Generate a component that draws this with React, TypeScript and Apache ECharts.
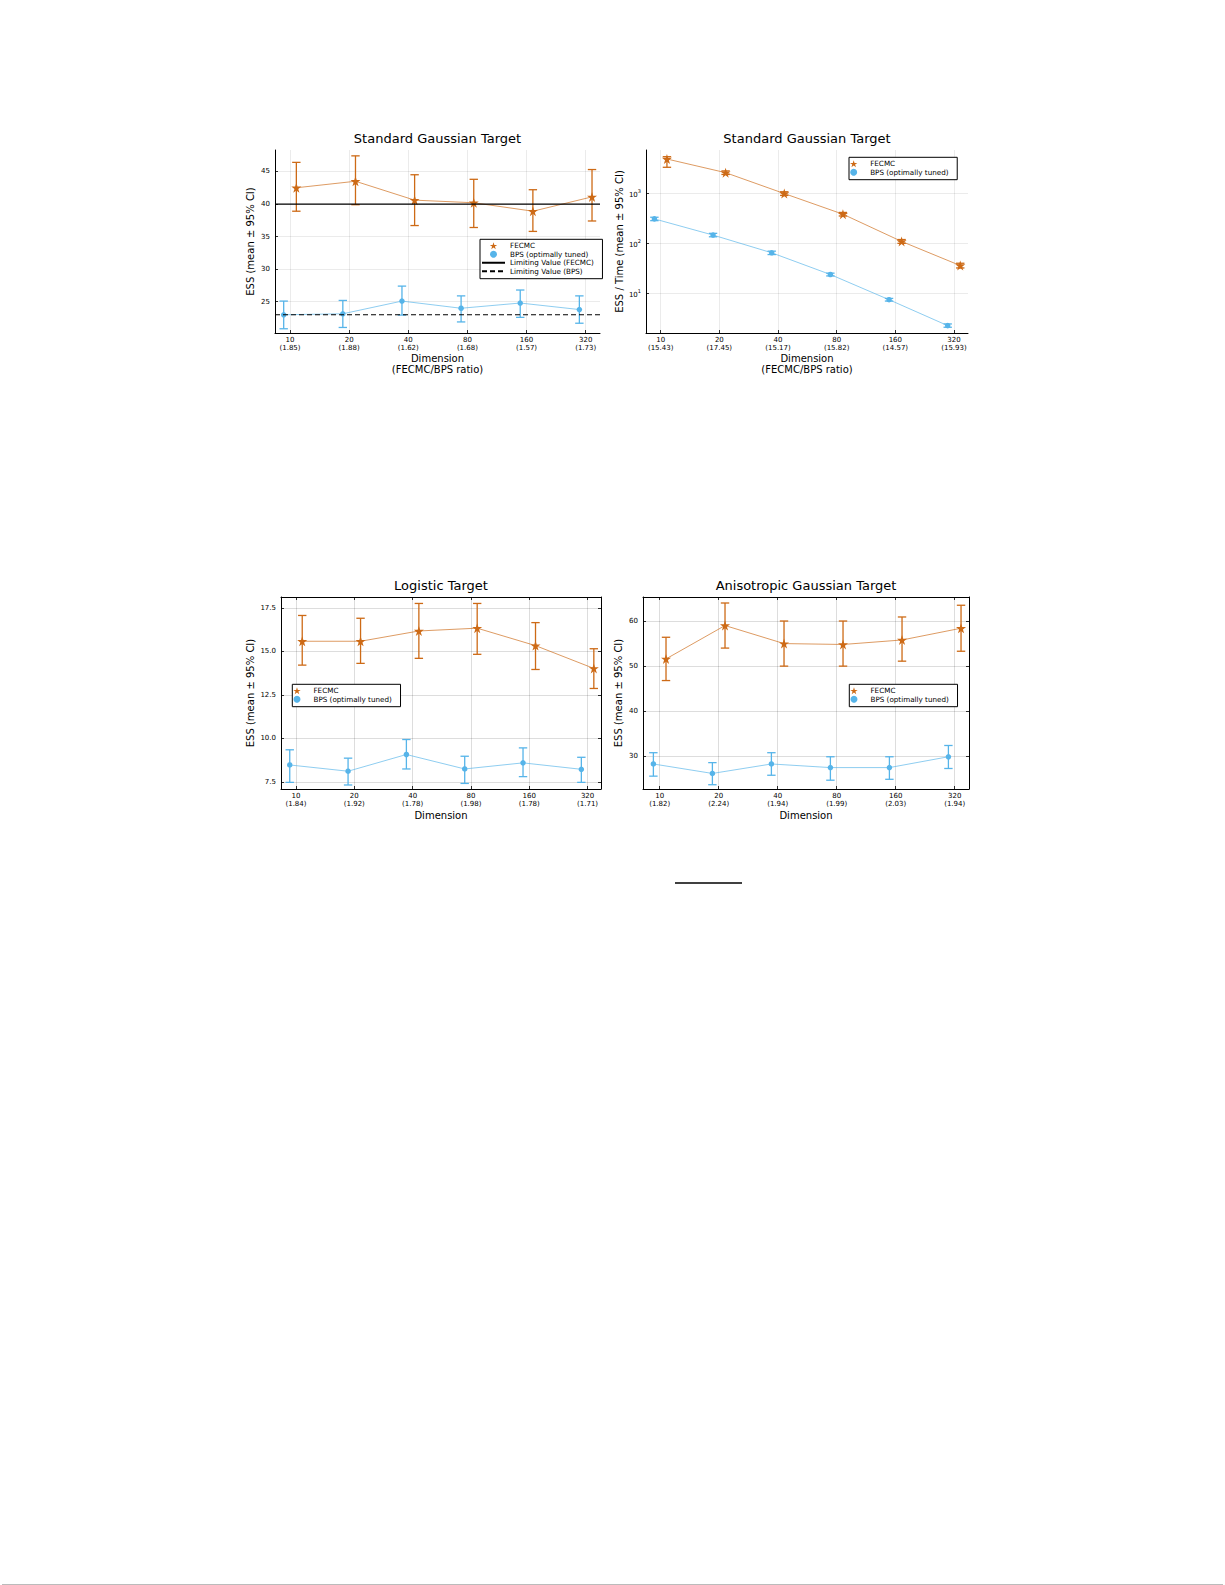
import React, { useEffect, useRef } from "react";
import * as echarts from "echarts";

// ---------- data ----------
const dims = ["10", "20", "40", "80", "160", "320"];
const ratiosA = ["1.85", "1.88", "1.62", "1.68", "1.57", "1.73"];
const ratiosB = ["15.43", "17.45", "15.17", "15.82", "14.57", "15.93"];
const ratiosC = ["1.84", "1.92", "1.78", "1.98", "1.78", "1.71"];
const ratiosD = ["1.82", "2.24", "1.94", "1.99", "2.03", "1.94"];

// Panel A: Standard Gaussian, ESS
const aFecmcMean = [42.5, 43.5, 40.6, 40.2, 38.9, 41.1];
const aFecmcLo = [38.9, 39.9, 36.7, 36.4, 35.8, 37.4];
const aFecmcHi = [46.4, 47.4, 44.5, 43.8, 42.2, 45.3];
const aBpsMean = [23.0, 23.15, 25.1, 24.0, 24.8, 23.8];
const aBpsLo = [20.85, 21.05, 22.95, 21.9, 22.6, 21.7];
const aBpsHi = [25.1, 25.2, 27.4, 25.9, 26.8, 25.9];
const aLimitFecmc = 40;
const aLimitBps = 23;

// Panel B: Standard Gaussian, ESS / Time (log)
const bFecmcMean = [4850, 2580, 985, 380, 108, 35.5];
const bFecmcLo = [3310, 2380, 905, 350, 99, 31.8];
const bFecmcHi = [5400, 2800, 1070, 412, 118, 39.5];
const bBpsMean = [306, 145, 64, 23.5, 7.35, 2.22];
const bBpsLo = [282, 134, 59, 22, 6.9, 2.06];
const bBpsHi = [330, 157, 69, 25, 7.8, 2.4];

// Panel C: Logistic
const cFecmcMean = [15.58, 15.58, 16.17, 16.33, 15.33, 14.02];
const cFecmcLo = [14.21, 14.31, 14.6, 14.83, 13.96, 12.87];
const cFecmcHi = [17.06, 16.9, 17.75, 17.75, 16.65, 15.15];
const cBpsMean = [8.48, 8.12, 9.08, 8.25, 8.6, 8.23];
const cBpsLo = [7.48, 7.33, 8.25, 7.42, 7.81, 7.48];
const cBpsHi = [9.35, 8.87, 9.94, 8.98, 9.46, 8.92];

// Panel D: Anisotropic Gaussian
const dFecmcMean = [51.6, 59.0, 55.0, 54.8, 55.8, 58.4];
const dFecmcLo = [46.8, 54.0, 50.0, 50.0, 51.1, 53.3];
const dFecmcHi = [56.4, 64.0, 60.0, 60.0, 60.9, 63.5];
const dBpsMean = [28.3, 26.2, 28.3, 27.5, 27.5, 29.9];
const dBpsLo = [25.6, 23.7, 25.8, 24.7, 24.9, 27.3];
const dBpsHi = [30.8, 28.6, 30.8, 29.9, 29.9, 32.4];

const yTicksA = [25, 30, 35, 40, 45];
const yTicksB = [10, 100, 1000];
const yTicksC = [7.5, 10, 12.5, 15, 17.5];
const yTicksD = [30, 40, 50, 60];

const NAME_F = "FECMC";
const NAME_B = "BPS (optimally tuned)";
const NAME_LF = "Limiting Value (FECMC)";
const NAME_LB = "Limiting Value (BPS)";

// ---------- styling ----------
const FONT = "DejaVu Sans";
const COL_F = "#CD6A16";
const COL_B = "#56B4E9";
const STAR =
  "path://M50,0L61.2,34.5L97.6,34.5L68.2,55.9L79.4,90.5L50,69.1L20.6,90.5L31.8,55.9L2.4,34.5L38.8,34.5Z";
const DODGE = 0.107;

type Panel = {
  title: string;
  left: number;
  top: number;
  width: number;
  height: number;
  xMin: number;
  xMax: number;
  yMin: number;
  yMax: number;
  log: boolean;
  yTicks: number[];
  yFmt: (v: number) => string;
  ratios: string[];
  xName: string;
  xNameGap: number;
  yName: string;
  yNameGap: number;
  box: boolean;
  gridColor: string;
  f: number[][];
  b: number[][];
  limits: boolean;
  legend: { left: number; top: number; names: string[] };
};

const panels: Panel[] = [
  {
    title: "Standard Gaussian Target",
    left: 275, top: 150, width: 325, height: 183,
    xMin: -0.254, xMax: 5.242, yMin: 20.2, yMax: 48.3, log: false,
    yTicks: yTicksA, yFmt: (v) => String(Math.round(v)),
    ratios: ratiosA, xName: "Dimension\n(FECMC/BPS ratio)", xNameGap: 19.5,
    yName: "ESS (mean ± 95% CI)", yNameGap: 19.5, box: false,
    gridColor: "rgba(0,0,0,0.1)",
    f: [aFecmcMean, aFecmcLo, aFecmcHi], b: [aBpsMean, aBpsLo, aBpsHi],
    limits: true,
    legend: { left: 480, top: 239.3, names: [NAME_F, NAME_B, NAME_LF, NAME_LB] },
  },
  {
    title: "Standard Gaussian Target",
    left: 646, top: 150, width: 322, height: 183,
    xMin: -0.25, xMax: 5.239, yMin: 1.58, yMax: 7350, log: true,
    yTicks: yTicksB, yFmt: (v) => "{b|10}{s|" + Math.round(Math.log10(v)) + "}",
    ratios: ratiosB, xName: "Dimension\n(FECMC/BPS ratio)", xNameGap: 19.5,
    yName: "ESS / Time (mean ± 95% CI)", yNameGap: 21.5, box: false,
    gridColor: "rgba(0,0,0,0.1)",
    f: [bFecmcMean, bFecmcLo, bFecmcHi], b: [bBpsMean, bBpsLo, bBpsHi],
    limits: false,
    legend: { left: 849, top: 157.3, names: [NAME_F, NAME_B] },
  },
  {
    title: "Logistic Target",
    left: 281, top: 597, width: 320, height: 192,
    xMin: -0.257, xMax: 5.23, yMin: 7.1, yMax: 18.12, log: false,
    yTicks: yTicksC, yFmt: (v) => v.toFixed(1),
    ratios: ratiosC, xName: "Dimension", xNameGap: 21,
    yName: "ESS (mean ± 95% CI)", yNameGap: 26, box: true,
    gridColor: "rgba(0,0,0,0.17)",
    f: [cFecmcMean, cFecmcLo, cFecmcHi], b: [cBpsMean, cBpsLo, cBpsHi],
    limits: false,
    legend: { left: 292.3, top: 684.3, names: [NAME_F, NAME_B] },
  },
  {
    title: "Anisotropic Gaussian Target",
    left: 643, top: 597, width: 326, height: 192,
    xMin: -0.283, xMax: 5.242, yMin: 22.75, yMax: 65.33, log: false,
    yTicks: yTicksD, yFmt: (v) => String(Math.round(v)),
    ratios: ratiosD, xName: "Dimension", xNameGap: 21,
    yName: "ESS (mean ± 95% CI)", yNameGap: 19.5, box: true,
    gridColor: "rgba(0,0,0,0.17)",
    f: [dFecmcMean, dFecmcLo, dFecmcHi], b: [dBpsMean, dBpsLo, dBpsHi],
    limits: false,
    legend: { left: 849.3, top: 684.3, names: [NAME_F, NAME_B] },
  },
];

const xTickIdx = dims.map((_, i) => i);

function errRender(color: string, capHalf: number) {
  return (_params: any, api: any) => {
    const x = api.value(0);
    const lo = api.value(1);
    const hi = api.value(2);
    const a = api.coord([x, lo]);
    const b = api.coord([x, hi]);
    const style = { stroke: color, lineWidth: 1.3, fill: "none" };
    return {
      type: "group",
      children: [
        { type: "line", shape: { x1: a[0], y1: a[1], x2: b[0], y2: b[1] }, style },
        { type: "line", shape: { x1: a[0] - capHalf, y1: a[1], x2: a[0] + capHalf, y2: a[1] }, style },
        { type: "line", shape: { x1: b[0] - capHalf, y1: b[1], x2: b[0] + capHalf, y2: b[1] }, style },
      ],
    };
  };
}

function buildOption() {
  const grid: any[] = [];
  const xAxis: any[] = [];
  const yAxis: any[] = [];
  const series: any[] = [];
  const legend: any[] = [];
  const graphic: any[] = [];

  panels.forEach((p, pi) => {
    grid.push({ left: p.left, top: p.top, width: p.width, height: p.height, containLabel: false, outerBoundsMode: "none" });
    const xMain = xAxis.length;
    xAxis.push({
      type: "value",
      gridIndex: pi,
      min: p.xMin,
      max: p.xMax,
      position: "bottom",
      name: p.xName,
      nameLocation: "middle",
      nameGap: p.xNameGap,
      nameMoveOverlap: false,
      nameTextStyle: { fontFamily: FONT, fontSize: 10, color: "#000", lineHeight: 11.2 },
      axisLine: { show: true, onZero: false, lineStyle: { color: "#000", width: 1 } },
      axisTick: { show: true, inside: true, length: 3, customValues: xTickIdx, lineStyle: { color: "#000", width: 0.8 } },
      axisLabel: {
        customValues: xTickIdx,
        margin: 3,
        fontFamily: FONT,
        fontSize: 7,
        lineHeight: 8.3,
        color: "#000",
        formatter: (v: number) => {
          const i = Math.round(v);
          return dims[i] + "\n(" + p.ratios[i] + ")";
        },
      },
      splitLine: { show: true, lineStyle: { color: p.gridColor, width: 0.8 } },
    });
    const yMain = yAxis.length;
    yAxis.push({
      type: p.log ? "log" : "value",
      logBase: 10,
      gridIndex: pi,
      min: p.yMin,
      max: p.yMax,
      position: "left",
      name: p.yName,
      nameLocation: "middle",
      nameGap: p.yNameGap,
      nameRotate: 90,
      nameMoveOverlap: false,
      nameTextStyle: { fontFamily: FONT, fontSize: 10, color: "#000" },
      axisLine: { show: true, onZero: false, lineStyle: { color: "#000", width: 1 } },
      axisTick: { show: true, inside: true, length: 3, customValues: p.yTicks, lineStyle: { color: "#000", width: 0.8 } },
      axisLabel: {
        customValues: p.yTicks,
        margin: 5,
        fontFamily: FONT,
        fontSize: 7,
        color: "#000",
        formatter: (v: number) => p.yFmt(v),
        rich: {
          b: { fontFamily: FONT, fontSize: 7, color: "#000", lineHeight: 10, verticalAlign: "bottom" },
          s: { fontFamily: FONT, fontSize: 5, color: "#000", lineHeight: 10, verticalAlign: "top" },
        },
      },
      splitLine: { show: true, lineStyle: { color: p.gridColor, width: 0.8 } },
    });
    if (p.box) {
      xAxis.push({
        type: "value",
        gridIndex: pi,
        min: p.xMin,
        max: p.xMax,
        position: "top",
        axisLine: { show: true, onZero: false, lineStyle: { color: "#000", width: 1 } },
        axisTick: { show: true, inside: true, length: 3, customValues: xTickIdx, lineStyle: { color: "#000", width: 0.8 } },
        axisLabel: { show: false },
        splitLine: { show: false },
      });
      yAxis.push({
        type: "value",
        gridIndex: pi,
        min: p.yMin,
        max: p.yMax,
        position: "right",
        axisLine: { show: true, onZero: false, lineStyle: { color: "#000", width: 1 } },
        axisTick: { show: true, inside: true, length: 3, customValues: p.yTicks, lineStyle: { color: "#000", width: 0.8 } },
        axisLabel: { show: false },
        splitLine: { show: false },
      });
    }

    const [fM, fL, fH] = p.f;
    const [bM, bL, bH] = p.b;
    const fxy = fM.map((m, i) => [i + DODGE, m]);
    const bxy = bM.map((m, i) => [i - DODGE, m]);
    const common = { xAxisIndex: xMain, yAxisIndex: yMain, silent: true };

    series.push({
      ...common, type: "line", name: "f-line-" + pi, data: fxy, symbol: "none",
      lineStyle: { color: COL_F, width: 0.9, opacity: 0.75 }, z: 2,
    });
    series.push({
      ...common, type: "line", name: "b-line-" + pi, data: bxy, symbol: "none",
      lineStyle: { color: COL_B, width: 0.9, opacity: 0.75 }, z: 2,
    });
    series.push({
      ...common, type: "custom", name: "f-err-" + pi,
      data: fM.map((_, i) => [i + DODGE, fL[i], fH[i]]),
      encode: { x: 0, y: [1, 2] },
      renderItem: errRender(COL_F, 4.2), z: 3,
    });
    series.push({
      ...common, type: "custom", name: "b-err-" + pi,
      data: bM.map((_, i) => [i - DODGE, bL[i], bH[i]]),
      encode: { x: 0, y: [1, 2] },
      renderItem: errRender(COL_B, 4.2), z: 3,
    });
    series.push({
      ...common, type: "scatter", name: NAME_F, data: fxy, symbol: STAR, symbolSize: 10,
      itemStyle: { color: COL_F, opacity: 1 }, z: 4,
    });
    series.push({
      ...common, type: "scatter", name: NAME_B, data: bxy, symbol: "circle", symbolSize: 5.5,
      itemStyle: { color: COL_B, opacity: 1 }, z: 4,
    });
    if (p.limits) {
      series.push({
        ...common, type: "line", name: NAME_LF, symbol: "none",
        data: [[p.xMin, aLimitFecmc], [p.xMax, aLimitFecmc]],
        itemStyle: { color: "#000", opacity: 0 },
        lineStyle: { color: "#000", width: 1.2, type: "solid", opacity: 1 }, z: 5,
      });
      series.push({
        ...common, type: "line", name: NAME_LB, symbol: "none",
        data: [[p.xMin, aLimitBps], [p.xMax, aLimitBps]],
        itemStyle: { color: "#000", opacity: 0 },
        lineStyle: { color: "#000", width: 1.2, type: [5, 3], opacity: 1 }, z: 5,
      });
    }

    legend.push({
      data: p.legend.names.map((n) =>
        n === NAME_LF || n === NAME_LB ? { name: n, itemStyle: { opacity: 0 } } : { name: n }
      ),
      left: p.legend.left,
      top: p.legend.top,
      orient: "vertical",
      selectedMode: false,
      itemWidth: 23,
      itemHeight: 7,
      itemGap: 0,
      padding: [2.2, 8.7, 3.2, 1],
      borderColor: "#000",
      borderWidth: 1,
      borderRadius: 0,
      backgroundColor: "#fff",
      textStyle: { fontFamily: FONT, fontSize: 7.2, color: "#000", lineHeight: 8.5 },
      z: 10,
    });

    graphic.push({
      type: "text",
      x: p.left + p.width / 2,
      y: p.top - 12,
      style: { text: p.title, fontFamily: FONT, fontSize: 13, fill: "#000", align: "center", verticalAlign: "middle" },
    });
  });

  graphic.push({
    type: "line",
    shape: { x1: 675, y1: 883, x2: 742, y2: 883 },
    style: { stroke: "#000", lineWidth: 1.5 },
  });
  graphic.push({
    type: "line",
    shape: { x1: 2, y1: 1584.5, x2: 1223, y2: 1584.5 },
    style: { stroke: "#bbb", lineWidth: 1 },
  });

  return {
    animation: false,
    backgroundColor: "#fff",
    textStyle: { fontFamily: FONT },
    grid,
    xAxis,
    yAxis,
    series,
    legend,
    graphic,
  };
}

export default function App() {
  const ref = useRef<HTMLDivElement>(null);
  useEffect(() => {
    if (!ref.current) return;
    const chart = echarts.init(ref.current, undefined, { renderer: "svg" });
    chart.setOption(buildOption() as any);
    return () => chart.dispose();
  }, []);
  return (
    <div
      ref={ref}
      style={{ position: "absolute", left: 0, top: 0, width: 1225, height: 1585, background: "#fff" }}
    />
  );
}
